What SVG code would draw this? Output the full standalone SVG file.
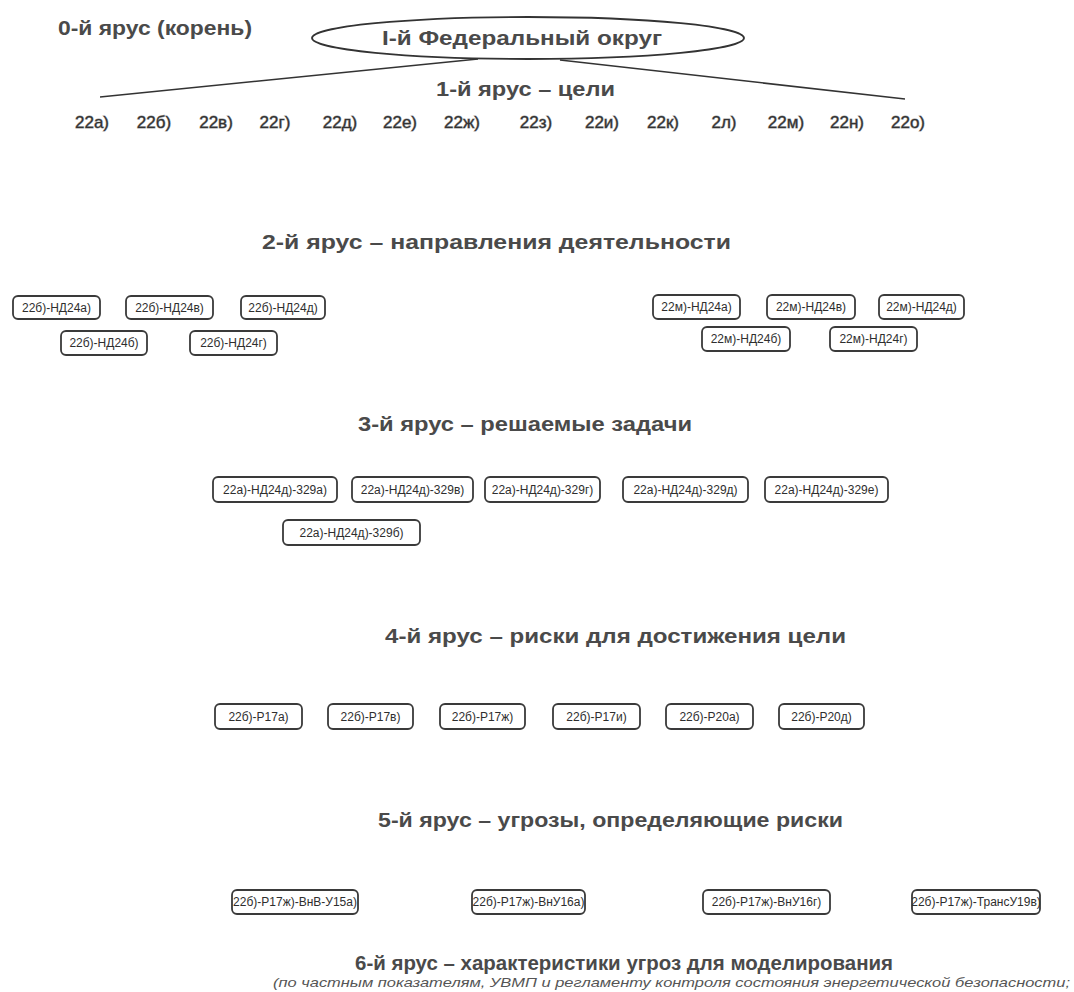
<svg xmlns="http://www.w3.org/2000/svg" width="1074" height="992" viewBox="0 0 1074 992">
<style>
text{font-family:"Liberation Sans",Arial,sans-serif}
.h{font-size:20px;font-weight:bold;fill:#4a4a4a}
.g{font-size:17px;fill:#333;text-anchor:middle;stroke:#999;stroke-width:0.9;paint-order:stroke}
.b rect{fill:#fff;stroke:#3a3a3a;stroke-width:1.8}
.b text{font-size:12px;fill:#2e2e2e;text-anchor:middle}
.sub{font-size:13px;font-style:italic;fill:#555}
.ln{fill:none;stroke:#333;stroke-width:1.6}
</style>
<rect width="1074" height="992" fill="#fff"/>
<text class="h" x="58" y="35" textLength="194" lengthAdjust="spacingAndGlyphs">0-й ярус (корень)</text>
<g id="connectors">
<line class="ln" x1="100" y1="97" x2="478" y2="59"/>
<line class="ln" x1="560" y1="60" x2="905" y2="99"/>
</g>
<g id="root">
<ellipse cx="528" cy="38" rx="216" ry="21" fill="#fff" stroke="#333" stroke-width="1.8"/>
<text class="h" x="382" y="45" textLength="280" lengthAdjust="spacingAndGlyphs">І-й Федеральный округ</text>
</g>
<text class="h" x="436" y="96" textLength="179" lengthAdjust="spacingAndGlyphs">1-й ярус – цели</text>
<g id="tier1">
<text class="g" x="92" y="128">22а)</text>
<text class="g" x="154" y="128">22б)</text>
<text class="g" x="216" y="128">22в)</text>
<text class="g" x="275" y="128">22г)</text>
<text class="g" x="340" y="128">22д)</text>
<text class="g" x="400" y="128">22е)</text>
<text class="g" x="462" y="128">22ж)</text>
<text class="g" x="536" y="128">22з)</text>
<text class="g" x="602" y="128">22и)</text>
<text class="g" x="663" y="128">22к)</text>
<text class="g" x="724" y="128">2л)</text>
<text class="g" x="786" y="128">22м)</text>
<text class="g" x="847" y="128">22н)</text>
<text class="g" x="908" y="128">22о)</text>
</g>
<text class="h" x="262" y="249" textLength="469" lengthAdjust="spacingAndGlyphs">2-й ярус – направления  деятельности</text>
<g id="tier2" class="b">
<g id="n2-1"><rect x="13" y="296" width="87" height="23" rx="5"/><text x="56.5" y="312">22б)-НД24а)</text></g>
<g id="n2-2"><rect x="126" y="296" width="87" height="23" rx="5"/><text x="169.5" y="312">22б)-НД24в)</text></g>
<g id="n2-3"><rect x="241" y="296" width="84" height="23" rx="5"/><text x="283" y="312">22б)-НД24д)</text></g>
<g id="n2-4"><rect x="61" y="331" width="86" height="24" rx="5"/><text x="104" y="347">22б)-НД24б)</text></g>
<g id="n2-5"><rect x="190" y="331" width="87" height="24" rx="5"/><text x="233.5" y="347">22б)-НД24г)</text></g>
<g id="n2-6"><rect x="653" y="295" width="87" height="24" rx="5"/><text x="696.5" y="311">22м)-НД24а)</text></g>
<g id="n2-7"><rect x="767" y="295" width="88" height="24" rx="5"/><text x="811" y="311">22м)-НД24в)</text></g>
<g id="n2-8"><rect x="879" y="295" width="85" height="24" rx="5"/><text x="921.5" y="311">22м)-НД24д)</text></g>
<g id="n2-9"><rect x="702" y="327" width="88" height="24" rx="5"/><text x="746" y="343">22м)-НД24б)</text></g>
<g id="n2-10"><rect x="830" y="327" width="87" height="24" rx="5"/><text x="873.5" y="343">22м)-НД24г)</text></g>
</g>
<text class="h" x="358" y="431" textLength="334" lengthAdjust="spacingAndGlyphs">3-й ярус – решаемые  задачи</text>
<g id="tier3" class="b">
<g id="n3-1"><rect x="213" y="477" width="124" height="25" rx="5"/><text x="275" y="494">22а)-НД24д)-329а)</text></g>
<g id="n3-2"><rect x="352" y="477" width="121" height="25" rx="5"/><text x="412.5" y="494">22а)-НД24д)-329в)</text></g>
<g id="n3-3"><rect x="485" y="477" width="115" height="25" rx="5"/><text x="542.5" y="494">22а)-НД24д)-329г)</text></g>
<g id="n3-4"><rect x="623" y="477" width="125" height="25" rx="5"/><text x="685.5" y="494">22а)-НД24д)-329д)</text></g>
<g id="n3-5"><rect x="765" y="477" width="123" height="25" rx="5"/><text x="826.5" y="494">22а)-НД24д)-329е)</text></g>
<g id="n3-6"><rect x="283" y="520" width="137" height="25" rx="5"/><text x="351.5" y="537">22а)-НД24д)-329б)</text></g>
</g>
<text class="h" x="385" y="643" textLength="461" lengthAdjust="spacingAndGlyphs">4-й ярус – риски для достижения цели</text>
<g id="tier4" class="b">
<g id="n4-1"><rect x="215" y="704" width="87" height="25" rx="5"/><text x="258.5" y="721">22б)-Р17а)</text></g>
<g id="n4-2"><rect x="328" y="704" width="85" height="25" rx="5"/><text x="370.5" y="721">22б)-Р17в)</text></g>
<g id="n4-3"><rect x="440" y="704" width="85" height="25" rx="5"/><text x="482.5" y="721">22б)-Р17ж)</text></g>
<g id="n4-4"><rect x="553" y="704" width="87" height="25" rx="5"/><text x="596.5" y="721">22б)-Р17и)</text></g>
<g id="n4-5"><rect x="666" y="704" width="87" height="25" rx="5"/><text x="709.5" y="721">22б)-Р20а)</text></g>
<g id="n4-6"><rect x="779" y="704" width="85" height="25" rx="5"/><text x="821.5" y="721">22б)-Р20д)</text></g>
</g>
<text class="h" x="378" y="827" textLength="465" lengthAdjust="spacingAndGlyphs">5-й ярус – угрозы,  определяющие риски</text>
<g id="tier5" class="b">
<g id="n5-1"><rect x="232" y="890" width="126" height="24" rx="5"/><text x="295" y="906">22б)-Р17ж)-ВнВ-У15а)</text></g>
<g id="n5-2"><rect x="472" y="890" width="113" height="24" rx="5"/><text x="528.5" y="906">22б)-Р17ж)-ВнУ16а)</text></g>
<g id="n5-3"><rect x="703" y="890" width="127" height="24" rx="5"/><text x="766.5" y="906">22б)-Р17ж)-ВнУ16г)</text></g>
<g id="n5-4"><rect x="912" y="890" width="128" height="24" rx="5"/><text x="976" y="906">22б)-Р17ж)-ТрансУ19в)</text></g>
</g>
<text class="h" x="355" y="970" textLength="538" lengthAdjust="spacingAndGlyphs">6-й ярус – характеристики  угроз  для моделирования</text>
<text class="sub" x="273" y="987" textLength="797" lengthAdjust="spacingAndGlyphs">(по частным показателям, УВМП и регламенту контроля состояния  энергетической безопасности;</text>
</svg>
